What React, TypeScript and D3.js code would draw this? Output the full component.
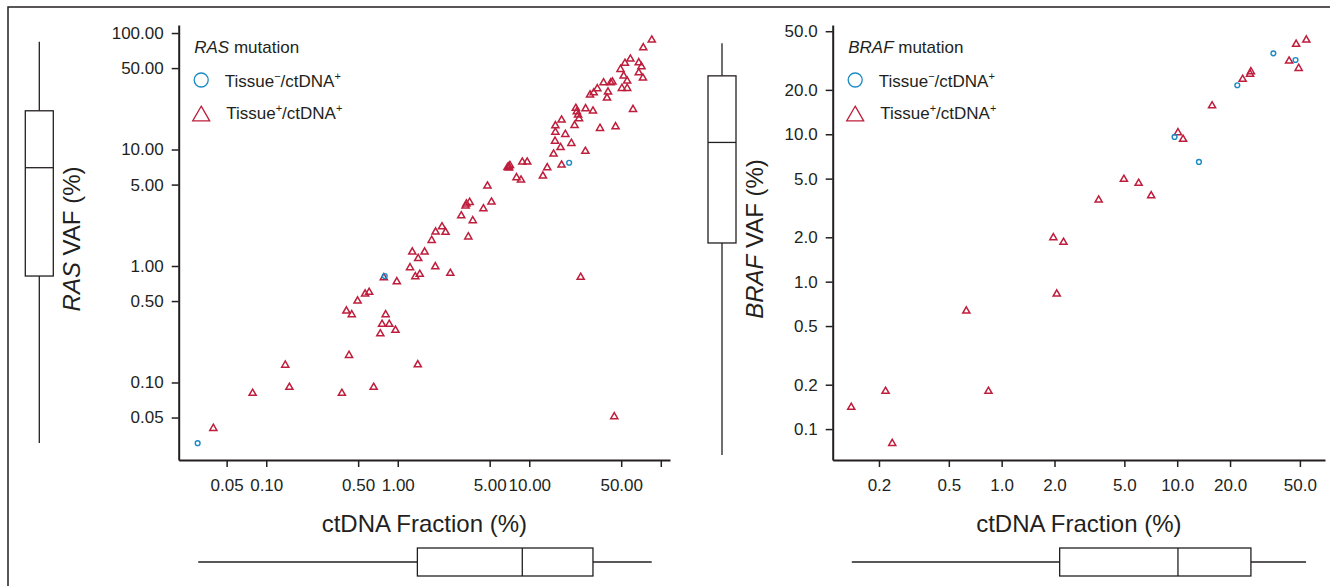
import { useEffect, useRef } from "react";
import * as d3 from "d3";

// [ctDNA fraction %, VAF %]
const rasTissuePos = [
  [85.4, 87.1], [73.6, 74.8], [58.7, 59.8], [53.4, 55.0], [68.0, 55.6], [71.3, 51.4],
  [49.4, 48.8], [52.2, 42.8], [68.0, 45.6], [73.1, 41.1], [55.5, 38.7], [42.9, 38.0],
  [41.6, 37.4], [36.7, 37.4], [50.6, 33.5], [55.5, 33.5], [39.7, 31.2], [32.9, 33.3],
  [30.9, 30.7], [29.0, 29.4], [39.0, 27.7], [61.5, 22.1], [22.6, 22.6], [26.8, 22.4],
  [30.5, 21.4], [23.0, 21.1], [23.5, 19.8], [23.9, 18.4], [17.6, 17.9], [15.8, 16.0],
  [22.1, 16.1], [15.8, 14.1], [18.8, 13.5], [34.5, 15.2], [45.3, 15.7], [15.7, 11.8],
  [20.9, 11.3], [17.3, 10.4], [15.3, 9.15], [26.7, 9.65], [13.7, 6.98], [17.6, 7.36],
  [12.7, 5.93], [8.85, 7.81], [9.64, 7.81], [8.0, 5.73], [8.65, 5.47], [7.0, 7.12],
  [6.83, 7.0], [7.13, 7.29], [7.01, 6.94], [4.81, 4.86], [5.16, 3.54], [4.48, 3.1],
  [3.52, 3.52], [3.33, 3.41], [3.28, 3.27], [3.04, 2.7], [3.72, 2.45], [3.44, 1.78],
  [2.17, 2.17], [1.94, 1.96], [2.31, 1.95], [1.81, 1.66], [1.29, 1.32], [1.6, 1.32],
  [1.43, 1.16], [1.24, 0.967], [1.93, 0.986], [2.51, 0.866], [1.36, 0.81], [1.47, 0.849],
  [0.984, 0.733], [0.784, 0.794], [24.6, 0.8], [0.606, 0.595], [0.565, 0.575],
  [0.495, 0.501], [0.407, 0.411], [0.447, 0.382], [0.809, 0.382], [0.76, 0.316],
  [0.862, 0.316], [0.737, 0.262], [0.961, 0.281], [0.426, 0.171], [1.42, 0.142],
  [0.1395, 0.141], [0.15, 0.091], [0.0788, 0.0808], [0.376, 0.0808], [0.656, 0.091],
  [44.3, 0.0509], [0.0396, 0.0404],
];
const rasTissueNeg = [[0.796, 0.82], [20.1, 7.7], [0.0301, 0.0301]];

const brafTissuePos = [
  [54.4, 43.6], [47.6, 40.8], [43.4, 31.4], [49.2, 28.0], [26.3, 26.6], [26.0, 25.6],
  [23.6, 23.6], [15.8, 15.6], [10.1, 10.25], [10.8, 9.25], [4.97, 4.95], [6.03, 4.65],
  [7.11, 3.83], [3.57, 3.58], [1.97, 1.99], [2.25, 1.85], [2.06, 0.825], [0.629, 0.633],
  [0.841, 0.1805], [0.218, 0.1805], [0.139, 0.1405], [0.238, 0.08],
];
const brafTissueNeg = [[35.3, 35.4], [47.2, 31.9], [22.0, 21.5], [9.66, 9.59], [13.3, 6.49]];

const rasTicks = [0.05, 0.1, 0.5, 1, 5, 10, 50, 100];
const brafYTicks = [0.1, 0.2, 0.5, 1, 2, 5, 10, 20, 50];
const brafXTicks = [0.2, 0.5, 1, 2, 5, 10, 20, 50];

// box stats: [min, q1, median, q3, max]
const rasVafBox = [0.0303, 0.82, 6.98, 21.5, 84.2];
const rasFracBox = [0.0304, 1.41, 8.85, 30.5, 85.3];
const brafVafBox = [0.0667, 1.83, 8.8, 24.9, 41.4];
const brafFracBox = [0.14, 2.14, 10.1, 26.3, 54.2];

const FONT = "'Liberation Sans', Arial, sans-serif";
const INK = "#231f20";
const RED = "#be1e3c";
const BLUE = "#1c8ac5";

const panels = [
  {
    gene: "RAS",
    pos: rasTissuePos,
    neg: rasTissueNeg,
    xDomain: [0.0216, 117.5],
    yDomain: [0.0216, 117.2],
    xRange: [178.7, 670],
    xTicks: rasTicks,
    yTicks: rasTicks,
    xHide: [100],
    fmt: ".2f",
    vafBox: rasVafBox,
    fracBox: rasFracBox,
    boxX: 39.3,
    titleX: 80,
  },
  {
    gene: "BRAF",
    pos: brafTissuePos,
    neg: brafTissueNeg,
    xDomain: [0.109, 69.5],
    yDomain: [0.0617, 55.1],
    xRange: [832.7, 1325],
    xTicks: brafXTicks,
    yTicks: brafYTicks,
    xHide: [],
    fmt: ".1f",
    vafBox: brafVafBox,
    fracBox: brafFracBox,
    boxX: 722,
    titleX: 763,
  },
];

const App = () => {
  const ref = useRef<SVGSVGElement>(null);

  useEffect(() => {
    const svg = d3.select(ref.current);
    svg.selectAll("*").remove();

    // frame
    svg
      .append("path")
      .attr("d", "M8,586V7H1330")
      .attr("fill", "none")
      .attr("stroke", INK)
      .attr("stroke-width", 1.5);

    const top = 25;
    const bottom = 460;
    const boxW = 28;
    const hBoxY = 562;

    panels.forEach((p) => {
      const x = d3.scaleLog().domain(p.xDomain).range(p.xRange);
      const y = d3.scaleLog().domain(p.yDomain).range([bottom, top]);
      const f = d3.format(p.fmt);
      const left = p.xRange[0];

      // x axis
      svg
        .append("g")
        .attr("transform", `translate(0,${bottom})`)
        .call(
          d3
            .axisBottom(x)
            .tickValues(p.xTicks)
            .tickFormat((d) => (p.xHide.includes(+d) ? "" : f(+d)))
            .tickSize(7)
            .tickPadding(12)
            .tickSizeOuter(0)
        )
        .call((g) => g.select(".domain").attr("stroke", INK).attr("stroke-width", 2))
        .call((g) => g.selectAll(".tick line").attr("stroke", INK).attr("stroke-width", 1.5))
        .call((g) =>
          g.selectAll("text").attr("font-size", 17).attr("font-family", FONT).attr("fill", INK)
        );

      // y axis
      svg
        .append("g")
        .attr("transform", `translate(${left},0)`)
        .call(
          d3
            .axisLeft(y)
            .tickValues(p.yTicks)
            .tickFormat((d) => f(+d))
            .tickSize(7)
            .tickPadding(8)
            .tickSizeOuter(0)
        )
        .call((g) => g.select(".domain").attr("stroke", INK).attr("stroke-width", 2))
        .call((g) => g.selectAll(".tick line").attr("stroke", INK).attr("stroke-width", 1.5))
        .call((g) =>
          g.selectAll("text").attr("font-size", 17).attr("font-family", FONT).attr("fill", INK)
        );

      // x title
      svg
        .append("text")
        .attr("x", (p.xRange[0] + p.xRange[1]) / 2)
        .attr("y", 532)
        .attr("text-anchor", "middle")
        .attr("font-size", 24)
        .attr("font-family", FONT)
        .attr("fill", INK)
        .text("ctDNA Fraction (%)");

      // y title
      const yt = svg
        .append("text")
        .attr("transform", `translate(${p.titleX},239) rotate(-90)`)
        .attr("text-anchor", "middle")
        .attr("font-size", 24)
        .attr("font-family", FONT)
        .attr("fill", INK);
      yt.append("tspan").attr("font-style", "italic").text(p.gene);
      yt.append("tspan").text(" VAF (%)");

      // vertical boxplot (VAF)
      const [vmin, vq1, vmed, vq3, vmax] = p.vafBox;
      const vb = svg.append("g").attr("stroke", INK).attr("stroke-width", 1.3).attr("fill", "none");
      vb.append("line").attr("x1", p.boxX).attr("x2", p.boxX).attr("y1", y(vmax)).attr("y2", y(vq3));
      vb.append("line").attr("x1", p.boxX).attr("x2", p.boxX).attr("y1", y(vq1)).attr("y2", y(vmin));
      vb.append("rect")
        .attr("x", p.boxX - boxW / 2)
        .attr("y", y(vq3))
        .attr("width", boxW)
        .attr("height", y(vq1) - y(vq3))
        .attr("fill", "#fff");
      vb.append("line")
        .attr("x1", p.boxX - boxW / 2)
        .attr("x2", p.boxX + boxW / 2)
        .attr("y1", y(vmed))
        .attr("y2", y(vmed));

      // horizontal boxplot (ctDNA fraction)
      const [hmin, hq1, hmed, hq3, hmax] = p.fracBox;
      const hb = svg.append("g").attr("stroke", INK).attr("stroke-width", 1.3).attr("fill", "none");
      hb.append("line").attr("x1", x(hmin)).attr("x2", x(hq1)).attr("y1", hBoxY).attr("y2", hBoxY);
      hb.append("line").attr("x1", x(hq3)).attr("x2", x(hmax)).attr("y1", hBoxY).attr("y2", hBoxY);
      hb.append("rect")
        .attr("x", x(hq1))
        .attr("y", hBoxY - boxW / 2)
        .attr("width", x(hq3) - x(hq1))
        .attr("height", boxW)
        .attr("fill", "#fff");
      hb.append("line")
        .attr("x1", x(hmed))
        .attr("x2", x(hmed))
        .attr("y1", hBoxY - boxW / 2)
        .attr("y2", hBoxY + boxW / 2);

      // points
      const tri = d3.symbol().type(d3.symbolTriangle).size(22);
      svg
        .append("g")
        .selectAll("path")
        .data(p.pos)
        .join("path")
        .attr("d", tri)
        .attr("transform", (d) => `translate(${x(d[0])},${y(d[1])})`)
        .attr("fill", "none")
        .attr("stroke", RED)
        .attr("stroke-width", 1.5);
      svg
        .append("g")
        .selectAll("circle")
        .data(p.neg)
        .join("circle")
        .attr("cx", (d) => x(d[0]))
        .attr("cy", (d) => y(d[1]))
        .attr("r", 2.4)
        .attr("fill", "none")
        .attr("stroke", BLUE)
        .attr("stroke-width", 1.4);

      // legend
      const lg = svg.append("g").attr("font-family", FONT).attr("font-size", 17).attr("fill", INK);
      const title = lg.append("text").attr("x", left + 15.5).attr("y", 53);
      title.append("tspan").attr("font-style", "italic").text(p.gene);
      title.append("tspan").text(" mutation");

      lg.append("circle")
        .attr("cx", left + 22.5)
        .attr("cy", 80)
        .attr("r", 7)
        .attr("fill", "none")
        .attr("stroke", BLUE)
        .attr("stroke-width", 1.3);
      const t1 = lg.append("text").attr("x", left + 46).attr("y", 87);
      t1.append("tspan").text("Tissue");
      t1.append("tspan").attr("font-size", 11).attr("dy", -7).text("−");
      t1.append("tspan").attr("dy", 7).text("/ctDNA");
      t1.append("tspan").attr("font-size", 11).attr("dy", -7).text("+");

      lg.append("path")
        .attr("d", d3.symbol().type(d3.symbolTriangle).size(125)())
        .attr("transform", `translate(${left + 22.5},116)`)
        .attr("fill", "none")
        .attr("stroke", RED)
        .attr("stroke-width", 1.3);
      const t2 = lg.append("text").attr("x", left + 47.5).attr("y", 119);
      t2.append("tspan").text("Tissue");
      t2.append("tspan").attr("font-size", 11).attr("dy", -7).text("+");
      t2.append("tspan").attr("dy", 7).text("/ctDNA");
      t2.append("tspan").attr("font-size", 11).attr("dy", -7).text("+");
    });
  }, []);

  return (
    <svg
      ref={ref}
      width={1330}
      height={586}
      style={{ position: "absolute", left: 0, top: 0, background: "#fff" }}
    ></svg>
  );
};

export default App;
